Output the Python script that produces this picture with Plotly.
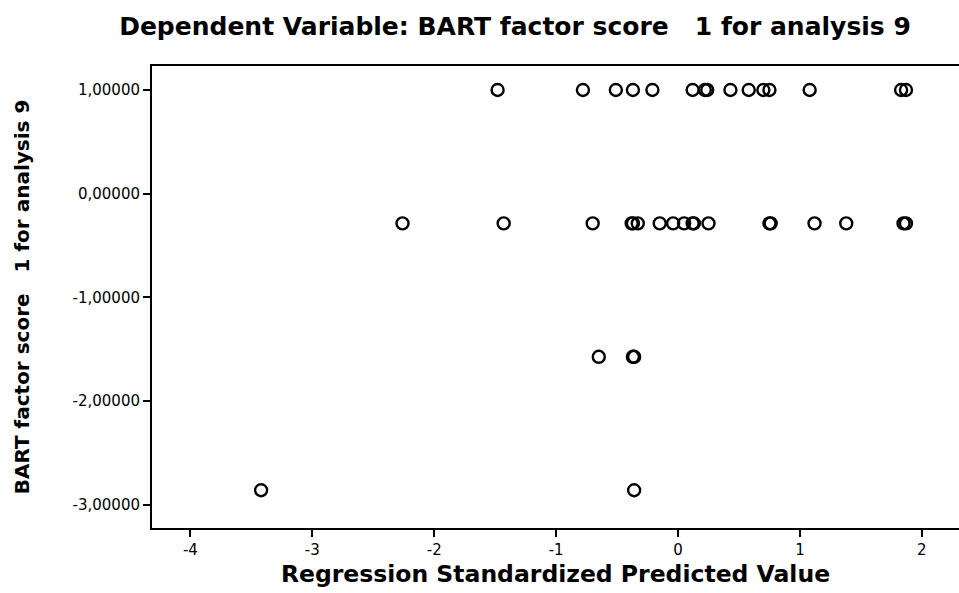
import plotly.graph_objects as go

# Data (x = regression standardized predicted value, y = factor score)
row1_y = 1.0
row1_x = [-1.48, -0.78, -0.51, -0.37, -0.21, 0.12, 0.22, 0.24, 0.43, 0.58, 0.70, 0.75, 1.08, 1.83, 1.87]
row2_y = -0.286
row2_x = [-2.26, -1.43, -0.70, -0.38, -0.37, -0.33, -0.15, -0.04, 0.05, 0.12, 0.13, 0.25, 0.75, 0.76,
          1.12, 1.38, 1.85, 1.87]
row3_y = -1.572
row3_x = [-0.65, -0.37, -0.36]
row4_y = -2.858
row4_x = [-3.42, -0.36]

x_tick_vals = [-4, -3, -2, -1, 0, 1, 2]
x_tick_text = ["-4", "-3", "-2", "-1", "0", "1", "2"]
y_tick_vals = [1, 0, -1, -2, -3]
y_tick_text = ["1,00000", "0,00000", "-1,00000", "-2,00000", "-3,00000"]

xs = row1_x + row2_x + row3_x + row4_x
ys = ([row1_y] * len(row1_x) + [row2_y] * len(row2_x) +
      [row3_y] * len(row3_x) + [row4_y] * len(row4_x))

fig = go.Figure()
fig.add_trace(go.Scatter(
    x=xs, y=ys, mode="markers",
    marker=dict(symbol="circle-open", size=12, color="black", line=dict(width=2.4, color="black")),
    showlegend=False, hoverinfo="x+y",
))

font_family = "DejaVu Sans, Liberation Sans, Arial, sans-serif"
fig.update_layout(
    width=959, height=593,
    paper_bgcolor="white", plot_bgcolor="white",
    margin=dict(l=152, r=0, t=66, b=65),
    font=dict(family=font_family, color="black", size=15),
    title=dict(text="<b>Dependent Variable: BART factor score   1 for analysis 9</b>",
               x=0.537, xanchor="center", y=0.955, yanchor="middle",
               font=dict(size=25, family=font_family, color="black")),
)
fig.update_xaxes(
    range=[-4.315, 2.305], tickvals=x_tick_vals, ticktext=x_tick_text,
    showgrid=False, zeroline=False, automargin=False,
    showline=True, linecolor="black", linewidth=2, mirror=True,
    ticks="outside", ticklen=7, tickwidth=2, tickcolor="black",
    tickfont=dict(size=15),
    title=dict(text="<b>Regression Standardized Predicted Value</b>", font=dict(size=23.5), standoff=8),
)
fig.update_yaxes(
    range=[-3.222, 1.231], tickvals=y_tick_vals, ticktext=y_tick_text,
    showgrid=False, zeroline=False, automargin=False,
    showline=True, linecolor="black", linewidth=2,
    ticks="outside", ticklen=7, tickwidth=2, tickcolor="black",
    tickfont=dict(size=15),
    title=dict(text="<b>BART factor score   1 for analysis 9</b>", font=dict(size=20), standoff=38),
)

fig.write_html("out.html", config={"displayModeBar": False},
               post_script="document.body.style.margin='0px';")
